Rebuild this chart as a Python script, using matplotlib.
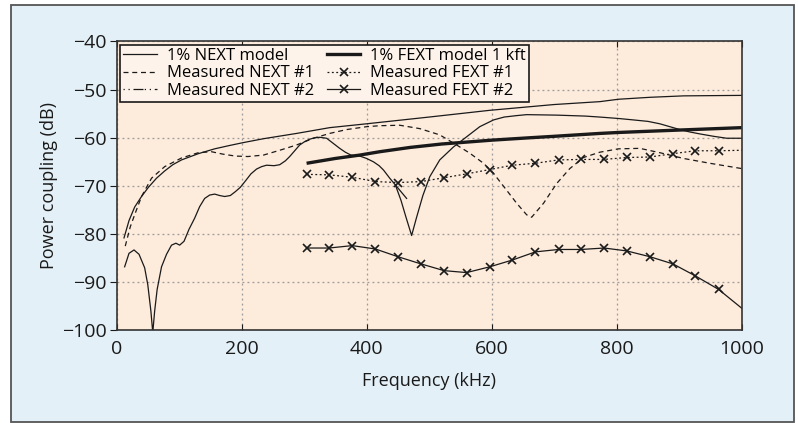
import matplotlib
matplotlib.use('Agg')
import matplotlib.pyplot as plt
from matplotlib.lines import Line2D
from matplotlib.patches import Rectangle

plt.rcParams['font.family'] = ['Open Sans', 'DejaVu Sans']
plt.rcParams['axes.unicode_minus'] = True

# ============================================================
# Data (frequency in kHz, coupling in dB)
# ============================================================
next_model_f = [12, 20, 29, 40, 51, 64, 77, 90, 104, 131, 157, 181, 203, 235, 288,
                341, 400, 450, 500, 597, 700, 773, 803, 853, 907, 1000]
next_model_db = [-80.8, -77.2, -74.4, -72.2, -70.3, -68.4, -66.9, -65.6, -64.6, -63.3,
                 -62.3, -61.6, -61.0, -60.2, -59.1, -57.9, -57.1, -56.4, -55.7, -54.3,
                 -53.1, -52.5, -52.0, -51.6, -51.3, -51.2]

next1_f = [14, 18, 22, 29, 40, 56, 77, 104, 131, 152, 170, 190, 210, 235, 261, 288,
           315, 341, 368, 400, 421, 453, 485, 517, 544, 565, 587, 603, 624, 640, 656,
           664, 683, 704, 725, 747, 773, 803, 837, 869, 907, 949, 1000]
next1_db = [-82.5, -80.5, -78.5, -76.0, -72.2, -68.4, -66.0, -64.2, -63.1, -62.9,
            -63.4, -63.8, -63.9, -63.6, -62.6, -61.5, -60.1, -59.1, -58.3, -57.7,
            -57.5, -57.4, -58.1, -59.4, -61.5, -63.2, -65.3, -67.4, -70.9, -73.6,
            -76.0, -76.5, -73.6, -69.5, -66.4, -64.1, -63.0, -62.3, -62.2, -63.1,
            -64.3, -65.3, -66.4]

next2_f = [13, 20, 28, 36, 45, 50, 55, 58, 61, 65, 72, 80, 88, 95, 101, 108, 116,
           125, 133, 141, 149, 157, 165, 173, 182, 190, 198, 206, 215, 224, 232, 240,
           252, 261, 270, 277, 285, 293, 301, 309, 317, 325, 336, 347, 357, 366, 375,
           389, 400, 411, 420, 427, 437, 446, 455, 463, 472, 480, 490, 501, 517, 539,
           560, 581, 603, 620, 640, 656, 704, 750, 773, 803, 827, 850, 869, 885, 901,
           917, 933, 955, 976, 1000]
next2_db = [-86.8, -84.0, -83.3, -84.2, -87.0, -90.5, -96.0, -100.5, -96.0, -91.5,
            -86.8, -84.2, -82.3, -81.9, -82.3, -81.5, -79.0, -76.7, -74.3, -72.6,
            -71.9, -71.7, -72.0, -72.2, -72.0, -71.2, -70.3, -69.0, -67.5, -66.5,
            -66.0, -65.7, -65.8, -65.6, -64.8, -63.9, -62.7, -61.5, -60.8, -60.3,
            -60.0, -59.9, -60.1, -61.2, -62.2, -63.0, -63.6, -63.8, -64.3, -65.0,
            -65.8, -66.7, -68.4, -69.8, -73.0, -76.5, -80.3, -76.5, -72.0, -68.1,
            -64.6, -61.9, -59.8, -57.7, -56.3, -55.7, -55.4, -55.2, -55.3, -55.5,
            -55.7, -56.0, -56.3, -56.6, -57.1, -57.7, -58.3, -58.8, -59.2, -59.7,
            -60.1, -60.1]

# short branch of NEXT #2 that stops near 465 kHz
next2_tail_f = [446, 455, 464]
next2_tail_db = [-69.8, -71.2, -72.6]

fext_model_f = [304, 350, 389, 421, 470, 520, 560, 600, 661, 700, 773, 803, 900, 1000]
fext_model_db = [-65.3, -64.3, -63.6, -62.9, -62.0, -61.3, -60.9, -60.5, -60.0, -59.7,
                 -59.1, -58.9, -58.4, -57.9]

fext_f = [304, 340, 377, 414, 450, 487, 524, 560, 597, 633, 670, 707, 743, 780, 816,
          853, 890, 926, 963]
fext1_db = [-67.6, -67.7, -68.2, -69.1, -69.3, -69.1, -68.3, -67.5, -66.6, -65.7,
            -65.3, -64.6, -64.5, -64.5, -64.1, -64.0, -63.3, -62.7, -62.7]
fext2_db = [-82.9, -82.9, -82.4, -83.1, -84.7, -86.2, -87.6, -88.0, -86.8, -85.4,
            -83.7, -83.2, -83.2, -82.9, -83.5, -84.7, -86.2, -88.7, -91.5]
fext1_end = (1000, -62.6)
fext2_end = (1000, -95.4)

legend_labels = ['1% NEXT model', 'Measured NEXT #1', 'Measured NEXT #2',
                 '1% FEXT model 1 kft', 'Measured FEXT #1', 'Measured FEXT #2']

# ============================================================
# Figure
# ============================================================
fig = plt.figure(figsize=(7.98, 4.23), dpi=100, facecolor='white')
fig.patches.append(Rectangle((11 / 798, 1 - 422 / 423), 783 / 798, 417 / 423,
                             transform=fig.transFigure, facecolor='#e4f0f7',
                             edgecolor='#555555', linewidth=1.3, zorder=-10))

ax = fig.add_axes([0.146, 0.219, 0.7835, 0.683])
ax.set_facecolor('#fdebdc')

ink = '#1a1a1a'
ax.plot(next_model_f, next_model_db, color=ink, lw=0.9)
ax.plot(next1_f, next1_db, color=ink, lw=0.9, dashes=(4, 3))
ax.plot(next2_f, next2_db, color=ink, lw=0.9)
ax.plot(next2_tail_f, next2_tail_db, color=ink, lw=0.9)
ax.plot(fext_model_f, fext_model_db, color=ink, lw=2.4, solid_capstyle='butt')
ax.plot(fext_f + [fext1_end[0]], fext1_db + [fext1_end[1]], color=ink, lw=0.9,
        dashes=(1.5, 2))
ax.plot(fext_f, fext1_db, ls='none', marker='x', ms=6, mew=1.2, color=ink)
ax.plot(fext_f + [fext2_end[0]], fext2_db + [fext2_end[1]], color=ink, lw=0.9)
ax.plot(fext_f, fext2_db, ls='none', marker='x', ms=6, mew=1.2, color=ink)

ax.set_xlim(0, 1000)
ax.set_ylim(-100, -40)
ax.set_xticks([0, 200, 400, 600, 800, 1000])
ax.set_yticks([-100, -90, -80, -70, -60, -50, -40])
ax.tick_params(axis='x', direction='in', length=4, top=True, labelsize=14,
               pad=7, colors=ink)
ax.tick_params(axis='y', direction='out', length=5, labelsize=14, pad=2, colors=ink)
ax.grid(True, color='#9a9a9a', lw=0.9, linestyle=(0, (1.5, 2.5)))
for s in ax.spines.values():
    s.set_color('#333333')
    s.set_linewidth(1.2)

ax.set_xlabel('Frequency (kHz)', fontsize=13, color=ink, labelpad=10)
ax.set_ylabel('Power coupling (dB)', fontsize=13, color=ink, labelpad=3)

handles = [
    Line2D([], [], color=ink, lw=0.9),
    Line2D([], [], color=ink, lw=0.9, dashes=(4, 3)),
    Line2D([], [], color=ink, lw=0.9, dashes=(1, 3, 1, 3, 8, 1)),
    Line2D([], [], color=ink, lw=2.4),
    Line2D([], [], color=ink, lw=0.9, dashes=(1.5, 2), marker='x', ms=6, mew=1.2),
    Line2D([], [], color=ink, lw=0.9, marker='x', ms=6, mew=1.2),
]
leg = ax.legend(handles, legend_labels, ncol=2, loc='upper left', fontsize=12,
                frameon=True, fancybox=False, edgecolor=ink, facecolor='#fdf3ea',
                framealpha=1, borderpad=0.2, labelspacing=0.08, handlelength=2.0,
                handletextpad=0.6, columnspacing=0.8, borderaxespad=0.2,
                markerscale=0.9)
leg.get_frame().set_linewidth(1.2)

plt.savefig('out.png', dpi=100)
plt.close()
